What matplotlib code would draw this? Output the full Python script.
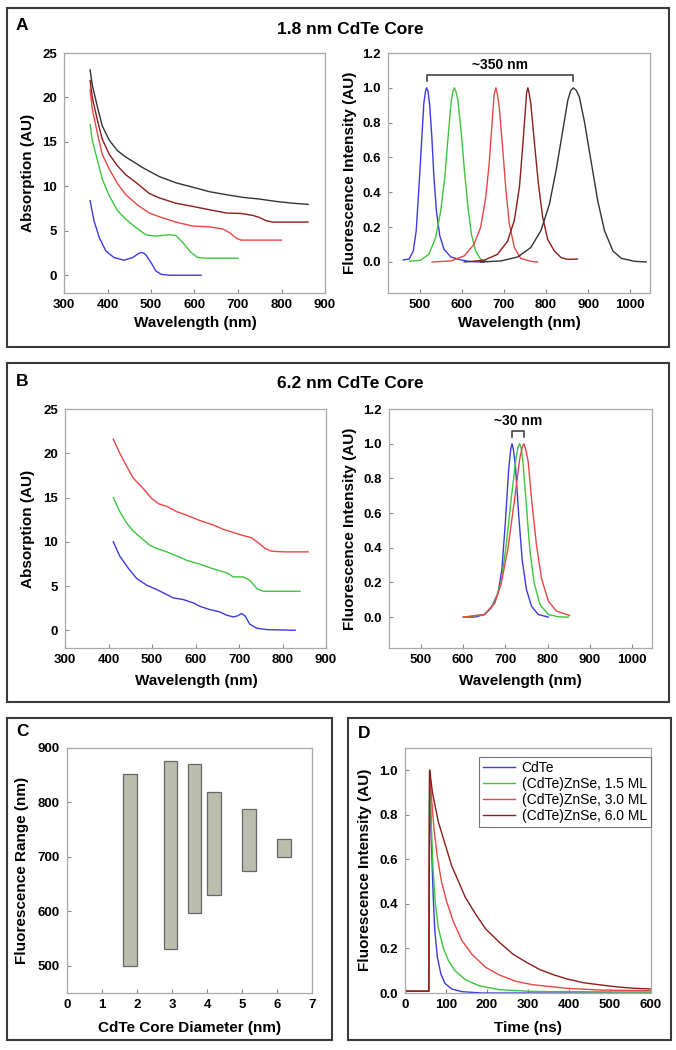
import matplotlib
matplotlib.use("Agg")
import matplotlib.pyplot as plt
from matplotlib.patches import Rectangle

plt.rcParams['font.family'] = ['Liberation Sans', 'DejaVu Sans']

# ---------------- Panel A: absorption (1.8 nm core) ----------------
a_abs_black_x = [360, 365, 377, 388, 404, 423, 442, 481, 519, 557, 596, 634, 673, 711, 749, 788, 826, 861]
a_abs_black_y = [23.1, 21.4, 18.9, 16.8, 15.2, 14.0, 13.3, 12.1, 11.1, 10.4, 9.9, 9.4, 9.06, 8.76, 8.57, 8.3, 8.1, 7.97]
a_abs_dred_x = [360, 365, 377, 388, 404, 423, 442, 469, 496, 519, 557, 596, 634, 673, 707, 734, 749, 765, 780, 826, 861]
a_abs_dred_y = [21.9, 20.0, 17.4, 15.3, 13.6, 12.3, 11.3, 10.3, 9.2, 8.7, 8.1, 7.74, 7.37, 7.0, 6.95, 6.73, 6.5, 6.13, 5.98, 5.98, 5.98]
a_abs_red_x = [360, 365, 377, 388, 404, 423, 442, 469, 496, 519, 557, 596, 634, 665, 680, 696, 707, 749, 800]
a_abs_red_y = [20.9, 18.7, 15.9, 13.6, 11.95, 10.3, 9.06, 7.9, 7.0, 6.58, 5.98, 5.53, 5.45, 5.19, 4.81, 4.17, 3.95, 3.95, 3.95]
a_abs_green_x = [360, 365, 377, 388, 404, 423, 442, 465, 488, 511, 542, 557, 573, 592, 607, 627, 700]
a_abs_green_y = [16.95, 15.15, 12.9, 10.8, 8.95, 7.26, 6.3, 5.38, 4.55, 4.4, 4.55, 4.47, 3.68, 2.56, 2.0, 1.92, 1.92]
a_abs_blue_x = [360, 369, 381, 396, 415, 438, 458, 470, 477, 483, 488, 500, 511, 523, 542, 615]
a_abs_blue_y = [8.38, 6.13, 4.25, 2.74, 1.99, 1.69, 1.99, 2.4, 2.55, 2.5, 2.3, 1.43, 0.49, 0.11, 0.0, 0.0]

# ---------------- Panel A: fluorescence ----------------
a_fl_blue_x = [461, 475, 485, 492, 498, 505, 510, 514, 517, 520, 524, 529, 534, 540, 548, 558, 574, 598, 621, 653]
a_fl_blue_y = [0.012, 0.017, 0.063, 0.18, 0.41, 0.70, 0.91, 0.98, 1.0, 0.98, 0.90, 0.72, 0.49, 0.29, 0.15, 0.073, 0.029, 0.012, 0.002, 0.0]
a_fl_green_x = [477, 502, 522, 538, 550, 560, 567, 575, 579, 582.5, 586, 591, 599, 607, 615, 623, 633, 645, 661]
a_fl_green_y = [0.004, 0.01, 0.044, 0.14, 0.29, 0.49, 0.70, 0.92, 0.98, 1.0, 0.98, 0.93, 0.74, 0.51, 0.31, 0.16, 0.063, 0.015, 0.002]
a_fl_red_x = [530, 574, 606, 629, 645, 657, 665, 673, 677, 681, 685, 689, 697, 705, 713, 725, 740, 764, 780]
a_fl_red_y = [0.0, 0.006, 0.035, 0.10, 0.20, 0.37, 0.56, 0.83, 0.96, 1.0, 0.96, 0.89, 0.66, 0.41, 0.22, 0.083, 0.021, 0.004, 0.0]
a_fl_dred_x = [606, 653, 685, 709, 725, 737, 744, 751, 754, 757, 760, 764, 772, 782, 792, 804, 820, 836, 852, 875]
a_fl_dred_y = [0.0, 0.01, 0.044, 0.12, 0.24, 0.43, 0.64, 0.87, 0.97, 1.0, 0.97, 0.91, 0.70, 0.45, 0.26, 0.13, 0.063, 0.025, 0.015, 0.017]
a_fl_black_x = [645, 693, 733, 764, 788, 808, 824, 840, 852, 859, 865, 872, 879, 891, 907, 923, 939, 959, 979, 1010, 1038]
a_fl_black_y = [0.0, 0.006, 0.029, 0.083, 0.18, 0.33, 0.525, 0.756, 0.93, 0.985, 1.0, 0.985, 0.95, 0.81, 0.58, 0.35, 0.18, 0.063, 0.021, 0.004, 0.0]
a_bracket_x = [517, 865]
a_bracket_label = "~350 nm"

# ---------------- Panel B: absorption (6.2 nm core) ----------------
b_abs_red_x = [411, 426, 442, 457, 480, 499, 515, 534, 557, 580, 610, 641, 664, 687, 710, 729, 744, 760, 775, 802, 859]
b_abs_red_y = [21.6, 20.0, 18.5, 17.2, 16.0, 14.9, 14.3, 14.0, 13.4, 13.0, 12.4, 11.9, 11.4, 11.05, 10.7, 10.45, 9.9, 9.24, 8.94, 8.86, 8.86]
b_abs_green_x = [411, 426, 442, 457, 476, 495, 511, 534, 557, 580, 610, 641, 672, 687, 710, 725, 741, 756, 840]
b_abs_green_y = [15.0, 13.4, 12.1, 11.2, 10.4, 9.6, 9.24, 8.86, 8.4, 7.9, 7.47, 6.94, 6.49, 6.03, 6.03, 5.66, 4.71, 4.41, 4.41]
b_abs_blue_x = [411, 426, 446, 465, 488, 511, 534, 549, 572, 595, 610, 633, 656, 672, 687, 696, 706, 714, 725, 741, 764, 829]
b_abs_blue_y = [10.0, 8.37, 6.98, 5.84, 5.09, 4.6, 4.03, 3.66, 3.47, 3.09, 2.71, 2.34, 2.07, 1.7, 1.51, 1.62, 1.89, 1.62, 0.68, 0.23, 0.075, 0.0]

# ---------------- Panel B: fluorescence ----------------
b_fl_blue_x = [601, 627, 651, 667, 683, 692, 700, 708, 713, 716, 719, 724, 732, 740, 750, 762, 778, 802]
b_fl_blue_y = [0.0, 0.0, 0.015, 0.054, 0.14, 0.275, 0.54, 0.85, 0.97, 1.0, 0.97, 0.87, 0.58, 0.33, 0.16, 0.063, 0.015, 0.0]
b_fl_green_x = [601, 651, 675, 690, 702, 714, 725, 730, 734, 738, 742, 750, 758, 768, 782, 802, 825, 849]
b_fl_green_y = [0.0, 0.015, 0.083, 0.20, 0.41, 0.68, 0.91, 0.98, 1.0, 0.97, 0.89, 0.64, 0.39, 0.20, 0.073, 0.015, 0.002, 0.0]
b_fl_red_x = [601, 651, 675, 690, 706, 722, 734, 740, 744, 748, 754, 763, 774, 786, 802, 821, 852]
b_fl_red_y = [0.0, 0.015, 0.08, 0.19, 0.39, 0.68, 0.91, 0.98, 1.0, 0.97, 0.90, 0.66, 0.41, 0.22, 0.092, 0.035, 0.01]
b_bracket_x = [715, 744]
b_bracket_label = "~30 nm"

# ---------------- Panel C: fluorescence range vs core diameter ----------------
c_diameter = [1.8, 2.95, 3.65, 4.2, 5.2, 6.2]
c_range_low = [500, 531, 597, 630, 675, 700]
c_range_high = [853, 876, 870, 820, 788, 733]

# ---------------- Panel D: lifetime decays ----------------
d_labels = ["CdTe", "(CdTe)ZnSe, 1.5 ML", "(CdTe)ZnSe, 3.0 ML", "(CdTe)ZnSe, 6.0 ML"]
d_blue_t = [0, 58, 60, 64.5, 68.6, 72.7, 79, 87.6, 97.5, 114, 139, 188, 602]
d_blue_y = [0.008, 0.008, 1.0, 0.67, 0.44, 0.28, 0.16, 0.085, 0.043, 0.018, 0.006, 0.0, 0.0]
d_green_t = [0, 58, 60, 64.5, 68.6, 74, 81, 93, 106, 122, 147, 180, 230, 312, 602]
d_green_y = [0.008, 0.008, 1.0, 0.74, 0.55, 0.40, 0.295, 0.205, 0.145, 0.10, 0.06, 0.033, 0.015, 0.007, 0.004]
d_red_t = [0, 58, 60, 64.5, 71, 79, 89, 101.7, 118, 139, 164, 197, 230, 271, 312, 395, 478, 602]
d_red_y = [0.008, 0.008, 1.0, 0.88, 0.73, 0.61, 0.50, 0.41, 0.32, 0.235, 0.172, 0.115, 0.081, 0.052, 0.037, 0.021, 0.013, 0.01]
d_dred_t = [0, 58, 60.3, 67, 81, 97.5, 114, 130.6, 147, 172, 197, 230, 263, 296, 329, 362, 395, 436, 478, 519, 560, 602]
d_dred_y = [0.008, 0.008, 1.0, 0.90, 0.77, 0.67, 0.57, 0.50, 0.43, 0.355, 0.287, 0.228, 0.175, 0.138, 0.105, 0.082, 0.063, 0.046, 0.036, 0.027, 0.021, 0.018]

# ---------------- styling ----------------
C_BLUE = '#3b3be0'
C_GREEN = '#3cc63c'
C_RED = '#ea4646'
C_DRED = '#8e1c1c'
C_BLACK = '#333333'
SPINE = '#a8a8a8'
LW = 1.0
TICK_FS = 9.5

W, H = 676, 1050
fig = plt.figure(figsize=(W / 100, H / 100), dpi=100)


def ax_px(x0, y0, x1, y1):
    return fig.add_axes([x0 / W, 1 - y1 / H, (x1 - x0) / W, (y1 - y0) / H])


def style(ax):
    for s in ax.spines.values():
        s.set_color(SPINE)
        s.set_linewidth(0.9)
    ax.tick_params(direction='in', length=3, width=0.8, color='#888888',
                   labelsize=TICK_FS, pad=4)
    ax.tick_params(axis='y', pad=5)
    for lab in ax.get_xticklabels() + ax.get_yticklabels():
        lab.set_fontweight('bold')


def box(x0, y0, x1, y1):
    fig.add_artist(Rectangle((x0 / W, 1 - y1 / H), (x1 - x0) / W, (y1 - y0) / H,
                             transform=fig.transFigure, fill=False,
                             edgecolor='#3a3a3a', linewidth=1.5))


def ftext(x, y, s, size, ha='center', va='center', rot=0):
    fig.text(x / W, 1 - y / H, s, fontsize=size, fontweight='bold', ha=ha, va=va,
             rotation=rot)


LABEL_FS = 11
TITLE_FS = 12.5

# panel boxes
box(7, 8, 669, 347)
box(7, 363, 669, 702)
box(7, 718, 332, 1040)
box(348, 718, 671, 1040)

ftext(16, 25, "A", 12.5, ha='left')
ftext(16, 382, "B", 12.5, ha='left')
ftext(16, 732, "C", 12.5, ha='left')
ftext(358, 733, "D", 12.5, ha='left')
ftext(350, 30, "1.8 nm CdTe Core", TITLE_FS)
ftext(350, 383, "6.2 nm CdTe Core", TITLE_FS)


def abs_axes(ax):
    ax.set_xlim(300, 900)
    ax.set_ylim(-2, 25)
    ax.set_xticks(range(300, 901, 100))
    ax.set_yticks(range(0, 26, 5))
    style(ax)


def fl_axes(ax):
    ax.set_xlim(425, 1047)
    ax.set_ylim(-0.178, 1.2)
    ax.set_xticks(range(500, 1001, 100))
    ax.set_yticks([0.0, 0.2, 0.4, 0.6, 0.8, 1.0, 1.2])
    ax.set_yticklabels(['0.0', '0.2', '0.4', '0.6', '0.8', '1.0', '1.2'])
    style(ax)


def bracket(ax, xs, label):
    x0, x1 = xs
    ax.plot([x0, x0, x1, x1], [1.04, 1.075, 1.075, 1.04], color='#333333', lw=1.1)
    ax.text((x0 + x1) / 2, 1.13, label, ha='center', va='center', fontsize=10,
            fontweight='bold')


# ---- A left
ax = ax_px(64, 53, 325, 293)
ax.plot(a_abs_black_x, a_abs_black_y, color=C_BLACK, lw=LW)
ax.plot(a_abs_dred_x, a_abs_dred_y, color=C_DRED, lw=LW)
ax.plot(a_abs_red_x, a_abs_red_y, color=C_RED, lw=LW)
ax.plot(a_abs_green_x, a_abs_green_y, color=C_GREEN, lw=LW)
ax.plot(a_abs_blue_x, a_abs_blue_y, color=C_BLUE, lw=LW)
abs_axes(ax)
ftext(28, 173, "Absorption (AU)", LABEL_FS, rot=90)
ftext(195, 323, "Wavelength (nm)", LABEL_FS)

# ---- A right
ax = ax_px(388, 53, 650, 293)
ax.plot(a_fl_blue_x, a_fl_blue_y, color=C_BLUE, lw=LW)
ax.plot(a_fl_green_x, a_fl_green_y, color=C_GREEN, lw=LW)
ax.plot(a_fl_red_x, a_fl_red_y, color=C_RED, lw=LW)
ax.plot(a_fl_dred_x, a_fl_dred_y, color=C_DRED, lw=LW)
ax.plot(a_fl_black_x, a_fl_black_y, color=C_BLACK, lw=LW)
fl_axes(ax)
bracket(ax, a_bracket_x, a_bracket_label)
ftext(350, 173, "Fluorescence Intensity (AU)", LABEL_FS, rot=90)
ftext(519, 323, "Wavelength (nm)", LABEL_FS)

# ---- B left
ax = ax_px(65, 409, 326, 648)
ax.plot(b_abs_red_x, b_abs_red_y, color=C_RED, lw=LW)
ax.plot(b_abs_green_x, b_abs_green_y, color=C_GREEN, lw=LW)
ax.plot(b_abs_blue_x, b_abs_blue_y, color=C_BLUE, lw=LW)
abs_axes(ax)
ftext(28, 529, "Absorption (AU)", LABEL_FS, rot=90)
ftext(196, 681, "Wavelength (nm)", LABEL_FS)

# ---- B right
ax = ax_px(389, 409, 652, 648)
ax.plot(b_fl_blue_x, b_fl_blue_y, color=C_BLUE, lw=LW)
ax.plot(b_fl_green_x, b_fl_green_y, color=C_GREEN, lw=LW)
ax.plot(b_fl_red_x, b_fl_red_y, color=C_RED, lw=LW)
fl_axes(ax)
bracket(ax, b_bracket_x, b_bracket_label)
ftext(350, 529, "Fluorescence Intensity (AU)", LABEL_FS, rot=90)
ftext(520, 681, "Wavelength (nm)", LABEL_FS)

# ---- C
ax = ax_px(67, 748, 312, 993)
heights = [h - l for l, h in zip(c_range_low, c_range_high)]
ax.bar(c_diameter, heights, bottom=c_range_low, width=0.38, color='#bbbeac',
       edgecolor='#666666', linewidth=0.9)
ax.set_xlim(0, 7)
ax.set_ylim(450, 900)
ax.set_xticks(range(0, 8))
ax.set_yticks(range(500, 901, 100))
style(ax)
ftext(22, 870, "Fluorescence Range (nm)", LABEL_FS, rot=90)
ftext(190, 1028, "CdTe Core Diameter (nm)", LABEL_FS)

# ---- D
ax = ax_px(405, 748, 651, 993)
l1, = ax.plot(d_blue_t, d_blue_y, color=C_BLUE, lw=LW)
l2, = ax.plot(d_green_t, d_green_y, color=C_GREEN, lw=LW)
l3, = ax.plot(d_red_t, d_red_y, color=C_RED, lw=LW)
l4, = ax.plot(d_dred_t, d_dred_y, color=C_DRED, lw=LW)
ax.set_xlim(0, 600)
ax.set_ylim(0, 1.1)
ax.set_xticks(range(0, 601, 100))
ax.set_yticks([0.0, 0.2, 0.4, 0.6, 0.8, 1.0])
ax.set_yticklabels(['0.0', '0.2', '0.4', '0.6', '0.8', '1.0'])
style(ax)
leg = ax.legend([l1, l2, l3, l4], d_labels, loc='upper right',
                bbox_to_anchor=(1.0, 0.965), borderaxespad=0.0, fontsize=10,
                frameon=True, fancybox=False, handlelength=2.3,
                labelspacing=0.15, borderpad=0.3, handletextpad=0.5)
leg.get_frame().set_edgecolor('#555555')
leg.get_frame().set_linewidth(0.8)
ftext(365, 870, "Fluorescence Intensity (AU)", LABEL_FS, rot=90)
ftext(528, 1028, "Time (ns)", LABEL_FS)

fig.savefig("out.png", dpi=100)
